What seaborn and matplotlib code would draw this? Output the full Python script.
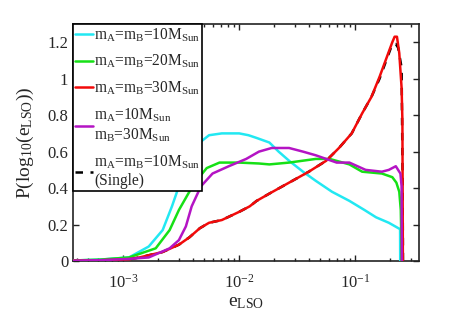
import numpy as np
import pandas as pd
import matplotlib
matplotlib.use("Agg")
import matplotlib.pyplot as plt
import seaborn as sns
from matplotlib.ticker import FuncFormatter, LogLocator

# curves: log10(e_LSO) and P
log_e_10_10 = [-3.45, -3.2, -2.95, -2.78, -2.66, -2.58, -2.52, -2.43, -2.34, -2.26, -2.15,
               -2.0, -1.92, -1.85, -1.74, -1.66, -1.57, -1.45, -1.34, -1.2, -1.05, -0.92,
               -0.82, -0.71, -0.613, -0.612]
p_10_10 = [0.003, 0.008, 0.02, 0.08, 0.17, 0.30, 0.41, 0.55, 0.65, 0.69, 0.70,
           0.70, 0.69, 0.675, 0.65, 0.60, 0.55, 0.49, 0.44, 0.38, 0.33, 0.28,
           0.24, 0.21, 0.175, 0.0]

log_e_20_20 = [-3.45, -3.2, -2.95, -2.72, -2.60, -2.52, -2.43, -2.37, -2.28, -2.17, -2.0,
               -1.83, -1.74, -1.57, -1.34, -1.22, -1.05, -0.94, -0.77, -0.68, -0.645,
               -0.62, -0.607, -0.603, -0.601]
p_20_20 = [0.003, 0.008, 0.02, 0.07, 0.17, 0.28, 0.38, 0.44, 0.51, 0.54, 0.54,
           0.535, 0.53, 0.54, 0.56, 0.56, 0.53, 0.49, 0.48, 0.46, 0.43,
           0.38, 0.28, 0.15, 0.0]

log_e_30_30 = [-3.45, -3.2, -2.95, -2.86, -2.66, -2.52, -2.43, -2.34, -2.26, -2.15, -2.0,
               -1.91, -1.85, -1.74, -1.57, -1.40, -1.25, -1.14, -1.03, -0.94, -0.86,
               -0.79, -0.68, -0.66, -0.64, -0.62, -0.60, -0.593, -0.589]
p_30_30 = [0.002, 0.004, 0.01, 0.02, 0.05, 0.09, 0.13, 0.18, 0.21, 0.225, 0.27,
           0.30, 0.33, 0.37, 0.43, 0.49, 0.55, 0.62, 0.70, 0.81, 0.90,
           1.01, 1.20, 1.23, 1.23, 1.14, 0.95, 0.77, 0.0]

log_e_10_30 = [-3.45, -3.2, -2.95, -2.78, -2.60, -2.52, -2.46, -2.41, -2.33, -2.23, -2.09,
               -1.94, -1.83, -1.72, -1.57, -1.45, -1.34, -1.16, -1.05, -0.91, -0.77,
               -0.71, -0.65, -0.61, -0.60, -0.598]
p_10_30 = [0.002, 0.005, 0.012, 0.02, 0.07, 0.115, 0.19, 0.30, 0.41, 0.48, 0.52,
           0.56, 0.60, 0.62, 0.62, 0.60, 0.58, 0.54, 0.54, 0.50, 0.49,
           0.50, 0.52, 0.48, 0.41, 0.0]

log_e_single = [-3.45, -3.2, -2.95, -2.86, -2.66, -2.52, -2.43, -2.34, -2.26, -2.15, -2.0,
                -1.91, -1.85, -1.74, -1.57, -1.40, -1.25, -1.14, -1.03, -0.94, -0.86,
                -0.79, -0.68, -0.65, -0.63, -0.60, -0.592, -0.588]
p_single = [0.002, 0.004, 0.01, 0.02, 0.05, 0.09, 0.13, 0.18, 0.21, 0.225, 0.27,
            0.30, 0.33, 0.37, 0.43, 0.49, 0.55, 0.62, 0.70, 0.81, 0.90,
            1.00, 1.19, 1.19, 1.17, 1.06, 0.5, 0.0]

labels = [r"m$_\mathrm{A}$=m$_\mathrm{B}$=10M$_\mathrm{Sun}$",
          r"m$_\mathrm{A}$=m$_\mathrm{B}$=20M$_\mathrm{Sun}$",
          r"m$_\mathrm{A}$=m$_\mathrm{B}$=30M$_\mathrm{Sun}$",
          "m$_\\mathrm{A}$=10M$_\\mathrm{Sun}$\nm$_\\mathrm{B}$=30M$_\\mathrm{Sun}$",
          "m$_\\mathrm{A}$=m$_\\mathrm{B}$=10M$_\\mathrm{Sun}$\n(Single)"]
colors = ["#22e8f2", "#16e016", "#f20a0a", "#b414c4", "black"]

sns.set_style("ticks")
plt.rcParams["font.family"] = ["Liberation Serif", "DejaVu Serif"]
plt.rcParams["mathtext.fontset"] = "custom"
plt.rcParams["mathtext.rm"] = "Liberation Serif"
plt.rcParams["mathtext.it"] = "Liberation Serif:italic"
plt.rcParams["mathtext.bf"] = "Liberation Serif:bold"

fig = plt.figure(figsize=(4.63, 3.28), dpi=100)
ax = fig.add_axes([0.158, 0.204, 0.747, 0.723])

series = [(log_e_10_10, p_10_10), (log_e_20_20, p_20_20), (log_e_30_30, p_30_30),
          (log_e_10_30, p_10_30), (log_e_single, p_single)]
for i, (lx, py) in enumerate(series):
    df = pd.DataFrame({"e": 10 ** np.array(lx), "p": py})
    if i < 4:
        sns.lineplot(data=df, x="e", y="p", color=colors[i], lw=1.8, ax=ax,
                     estimator=None, sort=False, label=labels[i], zorder=3)
    else:
        # single-binary curve sits under the red one, as in the original
        sns.lineplot(data=df, x="e", y="p", color=colors[i], lw=1.8, ax=ax,
                     estimator=None, sort=False, label=labels[i],
                     linestyle=(0, (3, 3)), zorder=2)

ax.set_xscale("log")
ax.set_xlim(3.7e-4, 0.355)
ax.set_ylim(0, 1.3)
ax.set_yticks([0, 0.2, 0.4, 0.6, 0.8, 1.0, 1.2])
ax.yaxis.set_major_formatter(FuncFormatter(lambda v, p: f"{v:g}"))
ax.xaxis.set_major_locator(LogLocator(base=10, numticks=10))
ax.xaxis.set_minor_locator(LogLocator(base=10, subs=np.arange(2, 10), numticks=10))
ax.tick_params(which="both", direction="in", top=True, right=True, labelsize=12,
               color="#222222", width=1.0)
ax.tick_params(which="major", length=4)
ax.tick_params(which="minor", length=2.5)
ax.tick_params(axis="x", which="major", pad=9)
for s in ax.spines.values():
    s.set_linewidth(1.2)
    s.set_color("#222222")

ax.set_xlabel(r"e$_\mathrm{LSO}$", fontsize=14, labelpad=2)
ax.set_ylabel(r"P(log$_\mathrm{10}$(e$_\mathrm{LSO}$))", fontsize=14, labelpad=8)

leg = ax.legend(loc="upper left", borderaxespad=0, fontsize=11.2, handlelength=1.1,
                handletextpad=0.1, labelspacing=0.6, borderpad=0.15,
                fancybox=False, framealpha=1, edgecolor="black")
leg.get_frame().set_linewidth(1.2)
leg.set_zorder(5)

fig.savefig("out.png", dpi=100)
